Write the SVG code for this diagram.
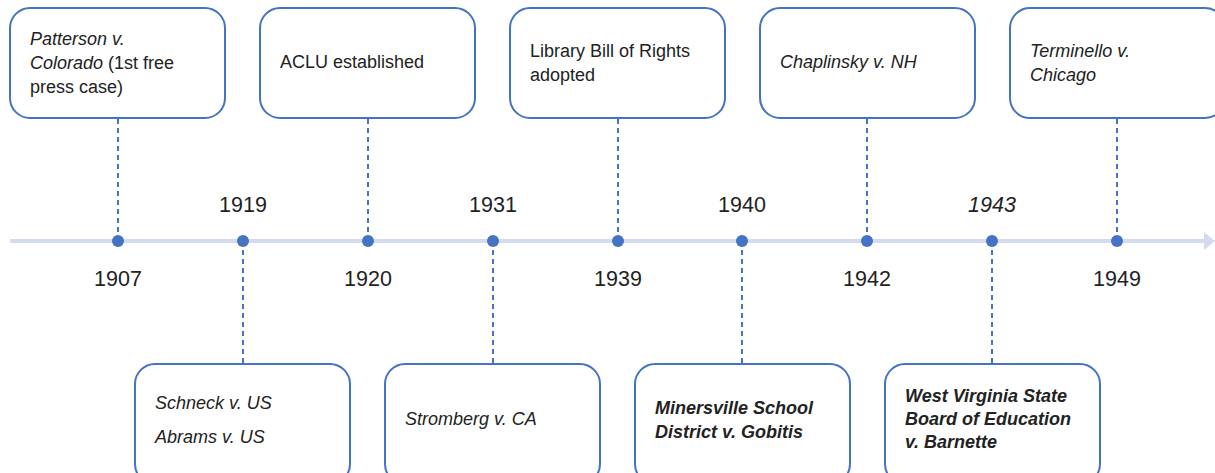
<svg xmlns="http://www.w3.org/2000/svg" width="1215" height="473" viewBox="0 0 1215 473">
<style>
.box{fill:#fff;stroke:#4472C4;stroke-width:2}
.t{font-family:"Liberation Sans",Arial,sans-serif;font-size:18px;fill:#222}
.i{font-style:italic}
.b{font-weight:bold}
.yr{font-family:"Liberation Sans",Arial,sans-serif;font-size:21.5px;fill:#222;text-anchor:middle}
.dash{stroke:#4472C4;stroke-width:2;stroke-dasharray:5,4;fill:none}
.dot{fill:#4472C4}
</style>
<rect width="1215" height="473" fill="#fff"/>
<g id="timeline">
<line x1="10" y1="241" x2="1206" y2="241" stroke="#D3DBEF" stroke-width="4"/>
<polygon points="1204,232 1215,241 1204,250" fill="#D3DBEF"/>
</g>
<g id="connectors">
<line class="dash" x1="118" y1="119" x2="118" y2="241"/>
<line class="dash" x1="368" y1="119" x2="368" y2="241"/>
<line class="dash" x1="618" y1="119" x2="618" y2="241"/>
<line class="dash" x1="867" y1="119" x2="867" y2="241"/>
<line class="dash" x1="1117" y1="119" x2="1117" y2="241"/>
<line class="dash" x1="243" y1="241" x2="243" y2="363"/>
<line class="dash" x1="493" y1="241" x2="493" y2="363"/>
<line class="dash" x1="742" y1="241" x2="742" y2="363"/>
<line class="dash" x1="992" y1="241" x2="992" y2="363"/>
</g>
<g id="dots">
<circle class="dot" cx="118" cy="241" r="6"/>
<circle class="dot" cx="243" cy="241" r="6"/>
<circle class="dot" cx="368" cy="241" r="6"/>
<circle class="dot" cx="493" cy="241" r="6"/>
<circle class="dot" cx="618" cy="241" r="6"/>
<circle class="dot" cx="742" cy="241" r="6"/>
<circle class="dot" cx="867" cy="241" r="6"/>
<circle class="dot" cx="992" cy="241" r="6"/>
<circle class="dot" cx="1117" cy="241" r="6"/>
</g>
<g id="years">
<text class="yr" x="118" y="286">1907</text>
<text class="yr" x="243" y="212">1919</text>
<text class="yr" x="368" y="286">1920</text>
<text class="yr" x="493" y="212">1931</text>
<text class="yr" x="618" y="286">1939</text>
<text class="yr" x="742" y="212">1940</text>
<text class="yr" x="867" y="286">1942</text>
<text class="yr i" x="992" y="212">1943</text>
<text class="yr" x="1117" y="286">1949</text>
</g>
<g id="n1907">
<rect class="box" x="10" y="8" width="215" height="110" rx="20"/>
<text class="t" x="30" y="45"><tspan class="i">Patterson v.</tspan></text>
<text class="t" x="30" y="69"><tspan class="i">Colorado</tspan> (1st free</text>
<text class="t" x="30" y="93">press case)</text>
</g>
<g id="n1920">
<rect class="box" x="260" y="8" width="215" height="110" rx="20"/>
<text class="t" x="280" y="68">ACLU established</text>
</g>
<g id="n1939">
<rect class="box" x="510" y="8" width="215" height="110" rx="20"/>
<text class="t" x="530" y="57">Library Bill of Rights</text>
<text class="t" x="530" y="81">adopted</text>
</g>
<g id="n1942">
<rect class="box" x="760" y="8" width="215" height="110" rx="20"/>
<text class="t i" x="780" y="68">Chaplinsky v. NH</text>
</g>
<g id="n1949">
<rect class="box" x="1010" y="8" width="215" height="110" rx="20"/>
<text class="t i" x="1030" y="57">Terminello v.</text>
<text class="t i" x="1030" y="81">Chicago</text>
</g>
<g id="n1919">
<rect class="box" x="135" y="364" width="215" height="120" rx="20"/>
<text class="t i" x="155" y="409">Schneck v. US</text>
<text class="t i" x="155" y="443">Abrams v. US</text>
</g>
<g id="n1931">
<rect class="box" x="385" y="364" width="215" height="120" rx="20"/>
<text class="t i" x="405" y="425">Stromberg v. CA</text>
</g>
<g id="n1940">
<rect class="box" x="635" y="364" width="215" height="120" rx="20"/>
<text class="t i b" x="655" y="414">Minersville School</text>
<text class="t i b" x="655" y="438">District v. Gobitis</text>
</g>
<g id="n1943">
<rect class="box" x="885" y="364" width="215" height="120" rx="20"/>
<text class="t i b" x="905" y="402">West Virginia State</text>
<text class="t i b" x="905" y="425">Board of Education</text>
<text class="t i b" x="905" y="448">v. Barnette</text>
</g>
</svg>
